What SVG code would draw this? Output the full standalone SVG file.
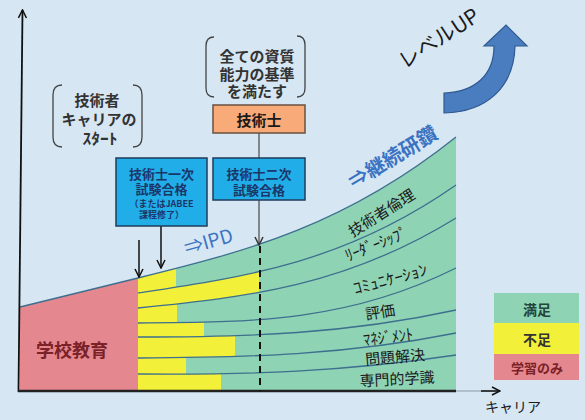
<svg xmlns="http://www.w3.org/2000/svg" width="585" height="420" viewBox="0 0 585 420">
<style>
.t{font-family:"Noto Sans CJK JP","Noto Sans",sans-serif;fill:#1a1a1a}
.g{fill:#8fd3b5}
.y{fill:#f3f03a}
.ln{fill:none;stroke:#3d6f8e;stroke-width:1.3}
.br{fill:none;stroke:#444;stroke-width:1.3}
.bx{fill:#21aee8;stroke:#1f3d5c;stroke-width:1.5}
.bt{fill:#1b3668;font-weight:bold}
.blue{fill:#3b73c2;font-weight:bold}
</style>
<defs>
<marker id="ab" viewBox="0 0 10 10" refX="9" refY="5" markerWidth="10" markerHeight="10" markerUnits="userSpaceOnUse" orient="auto"><path d="M1,1 L9,5 L1,9" fill="none" stroke="#111" stroke-width="1.5"/></marker>
<marker id="ag" viewBox="0 0 10 10" refX="9" refY="5" markerWidth="10" markerHeight="10" markerUnits="userSpaceOnUse" orient="auto"><path d="M1,1 L9,5 L1,9" fill="none" stroke="#333" stroke-width="1.5"/></marker>
<path id="u0" d="M138,278 C248,251 346,225 456,137 L456,391 L138,391 Z"/>
<path id="u1" d="M138,293 C248,276.5 346,262 456,185 L456,391 L138,391 Z"/>
<path id="u2" d="M138,308 C248,297 346,286 456,218 L456,391 L138,391 Z"/>
<path id="u3" d="M138,323 C248,322 346,323 456,268 L456,391 L138,391 Z"/>
<path id="u4" d="M138,337 C248,337 346,334 456,310 L456,391 L138,391 Z"/>
<path id="u5" d="M138,358 C248,357.5 346,355 456,333 L456,391 L138,391 Z"/>
<path id="u6" d="M138,374 C248,375 346,371.5 456,355 L456,391 L138,391 Z"/>
<clipPath id="c0"><use href="#u0"/></clipPath>
<clipPath id="c1"><use href="#u1"/></clipPath>
<clipPath id="c2"><use href="#u2"/></clipPath>
<clipPath id="c3"><use href="#u3"/></clipPath>
<clipPath id="c4"><use href="#u4"/></clipPath>
<clipPath id="c5"><use href="#u5"/></clipPath>
<clipPath id="c6"><use href="#u6"/></clipPath>
</defs>
<rect width="585" height="420" fill="#d6e6f3"/>

<g id="school">
<path d="M20,307 L138,278 L138,391 L20,391 Z" fill="#e5878f"/>
<text class="t" x="72" y="349" font-size="18" font-weight="bold" text-anchor="middle" dominant-baseline="central" style="fill:#7a2228">学校教育</text>
</g>

<g id="bands">
<use href="#u0" class="g"/><rect class="y" x="138" y="130" width="38" height="261" clip-path="url(#c0)"/>
<use href="#u1" class="g"/><rect class="y" x="138" y="130" width="121" height="261" clip-path="url(#c1)"/>
<use href="#u2" class="g"/><rect class="y" x="138" y="130" width="39" height="261" clip-path="url(#c2)"/>
<use href="#u3" class="g"/><rect class="y" x="138" y="130" width="66" height="261" clip-path="url(#c3)"/>
<use href="#u4" class="g"/><rect class="y" x="138" y="130" width="97" height="261" clip-path="url(#c4)"/>
<use href="#u5" class="g"/><rect class="y" x="138" y="130" width="48" height="261" clip-path="url(#c5)"/>
<use href="#u6" class="g"/><rect class="y" x="138" y="130" width="83" height="261" clip-path="url(#c6)"/>
<path class="ln" d="M20,307 L138,278 C248,251 346,225 456,137"/>
<path class="ln" d="M138,293 C248,276.5 346,262 456,185"/>
<path class="ln" d="M138,308 C248,297 346,286 456,218"/>
<path class="ln" d="M138,323 C248,322 346,323 456,268"/>
<path class="ln" d="M138,337 C248,337 346,334 456,310"/>
<path class="ln" d="M138,358 C248,357.5 346,355 456,333"/>
<path class="ln" d="M138,374 C248,375 346,371.5 456,355"/>
</g>

<g id="band-labels">
<text class="t" x="381" y="212" font-size="15" text-anchor="middle" dominant-baseline="central" transform="rotate(-32 381 212)">技術者倫理</text>
<text class="t" x="376" y="243" font-size="16" text-anchor="middle" dominant-baseline="central" textLength="66" lengthAdjust="spacingAndGlyphs" transform="rotate(-22 376 243)">ﾘｰﾀﾞｰｼｯﾌﾟ</text>
<text class="t" x="390" y="278" font-size="16" text-anchor="middle" dominant-baseline="central" textLength="76" lengthAdjust="spacingAndGlyphs" transform="rotate(-15 390 278)">ｺﾐｭﾆｹｰｼｮﾝ</text>
<text class="t" x="380" y="311" font-size="15" text-anchor="middle" dominant-baseline="central" transform="rotate(-9 380 311)">評価</text>
<text class="t" x="388" y="336" font-size="16" text-anchor="middle" dominant-baseline="central" textLength="50" lengthAdjust="spacingAndGlyphs" transform="rotate(-7 388 336)">ﾏﾈｼﾞﾒﾝﾄ</text>
<text class="t" x="395" y="356" font-size="15" text-anchor="middle" dominant-baseline="central" transform="rotate(-5 395 356)">問題解決</text>
<text class="t" x="397" y="378" font-size="15" text-anchor="middle" dominant-baseline="central" transform="rotate(-3 397 378)">専門的学識</text>
</g>

<g id="axes">
<line x1="18.5" y1="392" x2="22.5" y2="10" stroke="#111" stroke-width="1.8" marker-end="url(#ab)"/>
<line x1="456" y1="391" x2="499" y2="391" stroke="#8a9aa6" stroke-width="1"/>
<line x1="481" y1="391" x2="500" y2="391" stroke="#111" stroke-width="1.5" marker-end="url(#ab)"/>
<line x1="18" y1="391" x2="456" y2="391" stroke="#222" stroke-width="2.5"/>
<text class="t" x="513" y="406" font-size="14" text-anchor="middle" dominant-baseline="central">キャリア</text>
</g>

<g id="connectors">
<line x1="260" y1="246" x2="260" y2="391" stroke="#111" stroke-width="2" stroke-dasharray="7,5"/>
<line x1="259" y1="133" x2="259" y2="245" stroke="#555" stroke-width="1.3" marker-end="url(#ag)"/>
<line x1="139" y1="240" x2="139" y2="277" stroke="#111" stroke-width="1.5" marker-end="url(#ab)"/>
<line x1="161" y1="226" x2="161" y2="268" stroke="#111" stroke-width="1.5" marker-end="url(#ab)"/>
</g>

<g id="start-note">
<path class="br" d="M62,85 Q53,85 53,95 L53,137 Q53,147 62,147"/>
<path class="br" d="M133,85 Q142,85 142,95 L142,137 Q142,147 133,147"/>
<text class="t" x="97" y="99" font-size="15" font-weight="bold" text-anchor="middle" dominant-baseline="central" style="fill:#333">技術者</text>
<text class="t" x="99" y="118" font-size="15" font-weight="bold" text-anchor="middle" dominant-baseline="central" style="fill:#333">キャリアの</text>
<text class="t" x="100" y="137" font-size="15" font-weight="bold" text-anchor="middle" dominant-baseline="central" textLength="35" lengthAdjust="spacingAndGlyphs" style="fill:#333">ｽﾀｰﾄ</text>
</g>

<g id="standard-note">
<path class="br" d="M214,37 Q206,37 206,46 L206,88 Q206,97 214,97"/>
<path class="br" d="M297,36 Q305,36 305,45 L305,88 Q305,97 297,97"/>
<text class="t" x="257" y="55" font-size="15" font-weight="bold" text-anchor="middle" dominant-baseline="central" style="fill:#333">全ての資質</text>
<text class="t" x="257" y="73" font-size="15" font-weight="bold" text-anchor="middle" dominant-baseline="central" style="fill:#333">能力の基準</text>
<text class="t" x="257" y="90" font-size="15" font-weight="bold" text-anchor="middle" dominant-baseline="central" style="fill:#333">を満たす</text>
</g>

<g id="gijutsushi">
<rect x="213" y="105" width="92" height="28" fill="#f8ab78" stroke="#6a5040" stroke-width="1.5"/>
<text class="t" x="259" y="119" font-size="15" font-weight="bold" text-anchor="middle" dominant-baseline="central">技術士</text>
</g>

<g id="exam1">
<rect class="bx" x="116" y="158" width="91" height="68"/>
<text class="t bt" x="161.5" y="173" font-size="13" text-anchor="middle" dominant-baseline="central">技術士一次</text>
<text class="t bt" x="161.5" y="188" font-size="13" text-anchor="middle" dominant-baseline="central">試験合格</text>
<text class="t bt" x="161.5" y="203" font-size="9" text-anchor="middle" dominant-baseline="central">（またはJABEE</text>
<text class="t bt" x="161.5" y="214" font-size="9" text-anchor="middle" dominant-baseline="central">課程修了）</text>
</g>

<g id="exam2">
<rect class="bx" x="213" y="158" width="92" height="42"/>
<text class="t bt" x="259" y="173" font-size="13" text-anchor="middle" dominant-baseline="central">技術士二次</text>
<text class="t bt" x="259" y="189" font-size="13" text-anchor="middle" dominant-baseline="central">試験合格</text>
</g>

<g id="labels">
<text class="t blue" x="208" y="240" font-size="19" text-anchor="middle" dominant-baseline="central" transform="rotate(-16 208 240)" style="font-weight:normal">⇒IPD</text>
<text class="t blue" x="392" y="156" font-size="20" text-anchor="middle" dominant-baseline="central" transform="rotate(-31 392 156)">⇒継続研鑽</text>
<text class="t" x="438" y="37" font-size="21" text-anchor="middle" dominant-baseline="central" transform="rotate(-33 438 37)">レベルUP</text>
</g>

<g id="levelup-arrow">
<path d="M444,93 C475,92 494,75 494,46 L484,46 L506,25 L527,46 L515,46 C514,86 488,112 444,113 Z" fill="#4a7cc0" stroke="#2f5a8f" stroke-width="1.2"/>
</g>

<g id="legend">
<rect x="494" y="293" width="85" height="30" fill="#8fd3b5"/>
<rect x="494" y="323" width="85" height="31" fill="#f3f03a"/>
<rect x="494" y="354" width="85" height="26" fill="#e5878f"/>
<text class="t" x="537" y="309" font-size="14" font-weight="bold" text-anchor="middle" dominant-baseline="central" style="fill:#24453a">満足</text>
<text class="t" x="537" y="339" font-size="14" font-weight="bold" text-anchor="middle" dominant-baseline="central" style="fill:#333">不足</text>
<text class="t" x="537" y="367" font-size="13" font-weight="bold" text-anchor="middle" dominant-baseline="central" style="fill:#7a2228">学習のみ</text>
</g>
</svg>
